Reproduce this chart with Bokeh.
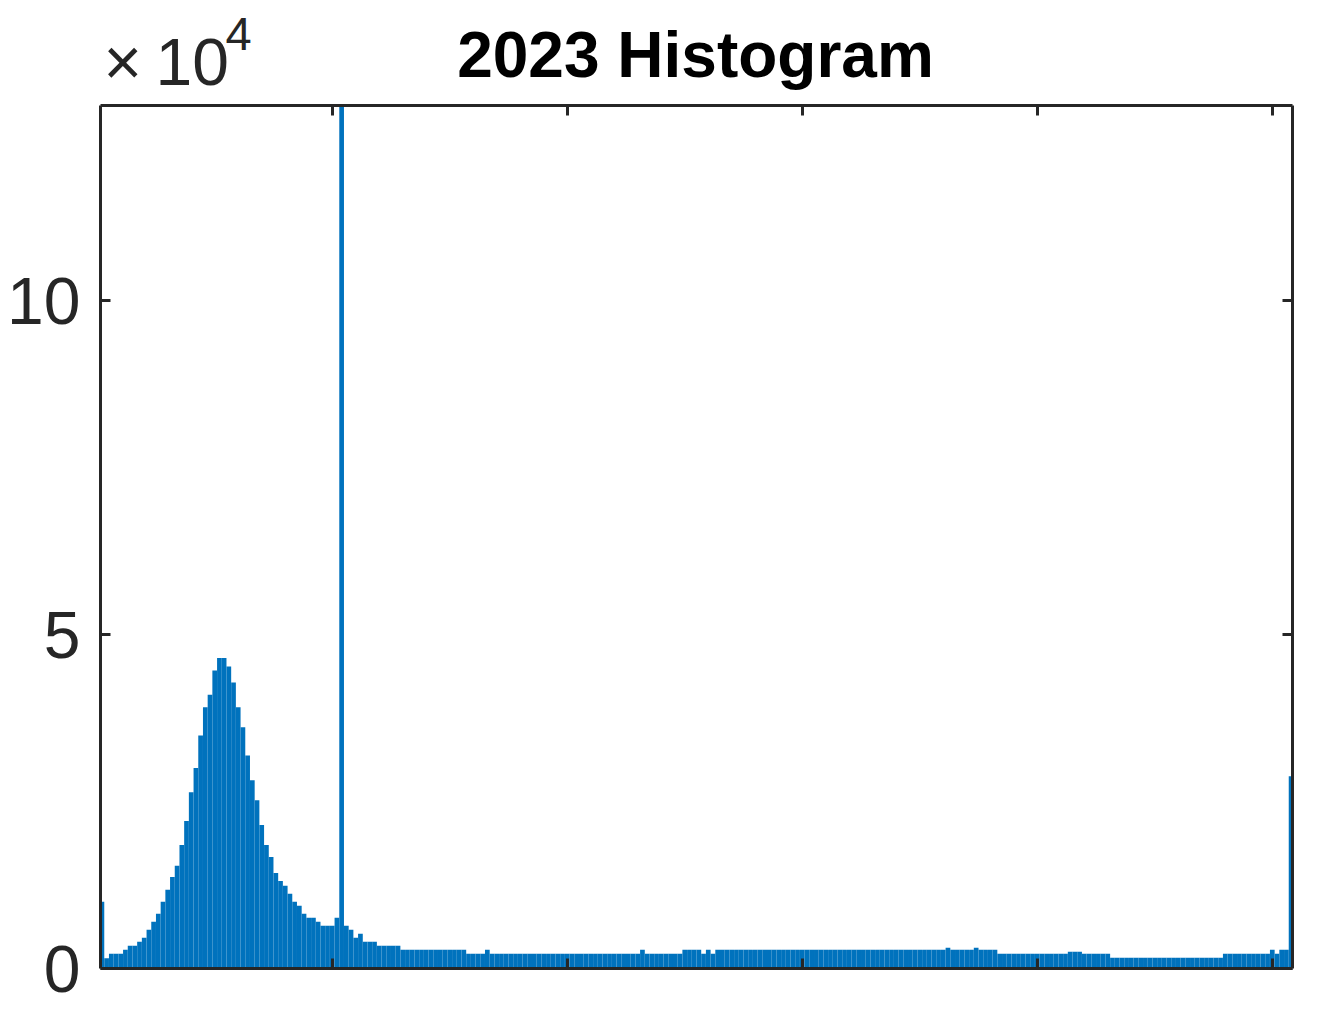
from bokeh.plotting import figure
from bokeh.models import Range1d, LinearAxis, FixedTicker, Label
from bokeh.layouts import column
from bokeh.embed import file_html
from bokeh.resources import INLINE

# ---------------- data ----------------
bin_values = list(range(1, 255))          # histogram bins 1 .. 254
counts = [
    # 1-16
    10000, 1550, 2200, 2200, 2200, 2800, 3400, 3400, 4000, 4600, 5800, 7000, 8200, 10000, 11800, 13700,
    # 17-32
    15400, 18500, 22100, 26400, 30000, 34900, 39100, 41000, 44600, 46500, 46500, 45200, 42800, 39100, 36100, 31900,
    # 33-48
    28200, 25200, 21500, 18500, 16700, 14300, 13100, 12400, 11200, 10000, 9400, 8200, 7600, 7600, 7000, 6400,
    # 49-64
    6400, 6400, 7600, 140000, 6400, 5800, 4600, 5200, 4000, 4000, 4000, 3400, 3400, 3400, 3400, 3400,
    # 65-80
    2800, 2800, 2800, 2800, 2800, 2800, 2800, 2800, 2800, 2800, 2800, 2800, 2800, 2800, 2200, 2200,
    # 81-96
    2200, 2200, 2800, 2200, 2200, 2200, 2200, 2200, 2200, 2200, 2200, 2200, 2200, 2200, 2200, 2200,
    # 97-112
    2200, 2200, 2200, 2200, 2200, 2200, 2200, 2200, 2200, 2200, 2200, 2200, 2200, 2200, 2200, 2200,
    # 113-128
    2200, 2200, 2200, 2800, 2200, 2200, 2200, 2200, 2200, 2200, 2200, 2200, 2800, 2800, 2800, 2800,
    # 129-144
    2200, 2800, 2200, 2800, 2800, 2800, 2800, 2800, 2800, 2800, 2800, 2800, 2800, 2800, 2800, 2800,
    # 145-160
    2800, 2800, 2800, 2800, 2800, 2800, 2800, 2800, 2800, 2800, 2800, 2800, 2800, 2800, 2800, 2800,
    # 161-176
    2800, 2800, 2800, 2800, 2800, 2800, 2800, 2800, 2800, 2800, 2800, 2800, 2800, 2800, 2800, 2800,
    # 177-192
    2800, 2800, 2800, 2800, 3100, 2800, 2800, 2800, 2800, 2800, 3100, 2800, 2800, 2800, 2800, 2200,
    # 193-208
    2200, 2200, 2200, 2200, 2200, 2200, 2200, 2200, 2200, 2200, 2200, 2200, 2200, 2200, 2500, 2500,
    # 209-224
    2500, 2200, 2200, 2200, 2200, 2200, 2200, 1600, 1600, 1600, 1600, 1600, 1600, 1600, 1600, 1600,
    # 225-240
    1600, 1600, 1600, 1600, 1600, 1600, 1600, 1600, 1600, 1600, 1600, 1600, 1600, 1600, 1600, 2200,
    # 241-254
    2200, 2200, 2200, 2200, 2200, 2200, 2200, 2200, 2200, 2800, 2200, 2800, 2800, 28800,
]
x_tick_values = [0, 50, 100, 150, 200, 250]
y_tick_values = [0, 50000, 100000]
y_tick_labels = ["0", "5", "10"]
title_text = "2023 Histogram"
multiplier_sign = "\u00d7"
multiplier_base = "10"
multiplier_power = "4"

AXIS_COLOR = "#262626"
BAR_COLOR = "#0072BD"
FONT = "Liberation Sans"

W = 1306
HEADER_H = 100
MAIN_H = 912
FRAME_L, FRAME_R = 100, 1292      # frame edges in page pixels (shared by both figures)

X_START, X_END = 0.7, 254.3
Y_START, Y_END = 0, 129200

# ---------------- header strip holding the title and the axis exponent ----------------
header = figure(width=W, height=HEADER_H, output_backend="svg", toolbar_location=None,
                title_location=None,
                x_range=Range1d(FRAME_L, FRAME_R), y_range=Range1d(0, HEADER_H),
                x_axis_type=None, y_axis_type=None,
                min_border_left=FRAME_L, min_border_right=W - FRAME_R,
                min_border_top=0, min_border_bottom=0,
                background_fill_color="white", border_fill_color="white")
header.grid.visible = False
header.outline_line_color = None

header.add_layout(Label(x=695, y=46, text=title_text,
                        text_align="center", text_baseline="alphabetic",
                        text_font=FONT, text_font_style="bold", text_font_size="64px",
                        text_color="black"))
header.add_layout(Label(x=103, y=39, text=multiplier_sign,
                        text_align="left", text_baseline="alphabetic",
                        text_font=FONT, text_font_size="66px", text_color=AXIS_COLOR))
header.add_layout(Label(x=155, y=39, text=multiplier_base,
                        text_align="left", text_baseline="alphabetic",
                        text_font=FONT, text_font_size="66px", text_color=AXIS_COLOR))
header.add_layout(Label(x=225, y=67, text=multiplier_power,
                        text_align="left", text_baseline="alphabetic",
                        text_font=FONT, text_font_size="47px", text_color=AXIS_COLOR))

# ---------------- histogram ----------------
p = figure(width=W, height=MAIN_H, output_backend="svg", toolbar_location=None,
           title_location=None,
           x_range=Range1d(X_START, X_END), y_range=Range1d(Y_START, Y_END),
           min_border_left=FRAME_L, min_border_right=W - FRAME_R,
           min_border_top=5, min_border_bottom=44,
           background_fill_color="white", border_fill_color="white")
p.grid.visible = False
p.outline_line_color = None

p.vbar(x=bin_values, top=counts, width=1.0, bottom=0,
       fill_color=BAR_COLOR, line_color=None)

p.add_layout(LinearAxis(), "right")
p.add_layout(LinearAxis(), "above")

for ax in list(p.xaxis) + list(p.yaxis):
    ax.axis_line_color = AXIS_COLOR
    ax.axis_line_width = 3
    ax.major_tick_line_color = AXIS_COLOR
    ax.major_tick_line_width = 3
    ax.major_tick_in = 10
    ax.major_tick_out = 0
    ax.minor_tick_line_color = None
    ax.major_label_text_font = FONT
    ax.major_label_text_color = AXIS_COLOR

for ax in p.xaxis:
    ax.ticker = FixedTicker(ticks=x_tick_values)

for ax in p.yaxis:
    ax.ticker = FixedTicker(ticks=y_tick_values)

# unlabeled axes (bottom, top, right): ticks only
right_axis = p.right[0]
for ax, ticks in ((p.below[0], x_tick_values), (p.above[0], x_tick_values), (right_axis, y_tick_values)):
    ax.major_label_overrides = {t: "" for t in ticks}
    ax.major_label_text_color = None
    ax.major_label_text_font_size = "1px"
    ax.major_label_standoff = 0

left_axis = p.left[0]
left_axis.major_label_overrides = dict(zip(y_tick_values, y_tick_labels))
left_axis.major_label_text_font_size = "66px"
left_axis.major_label_standoff = 20

layout = column(header, p, spacing=0)
open("out.html", "w").write(file_html(layout, INLINE))
